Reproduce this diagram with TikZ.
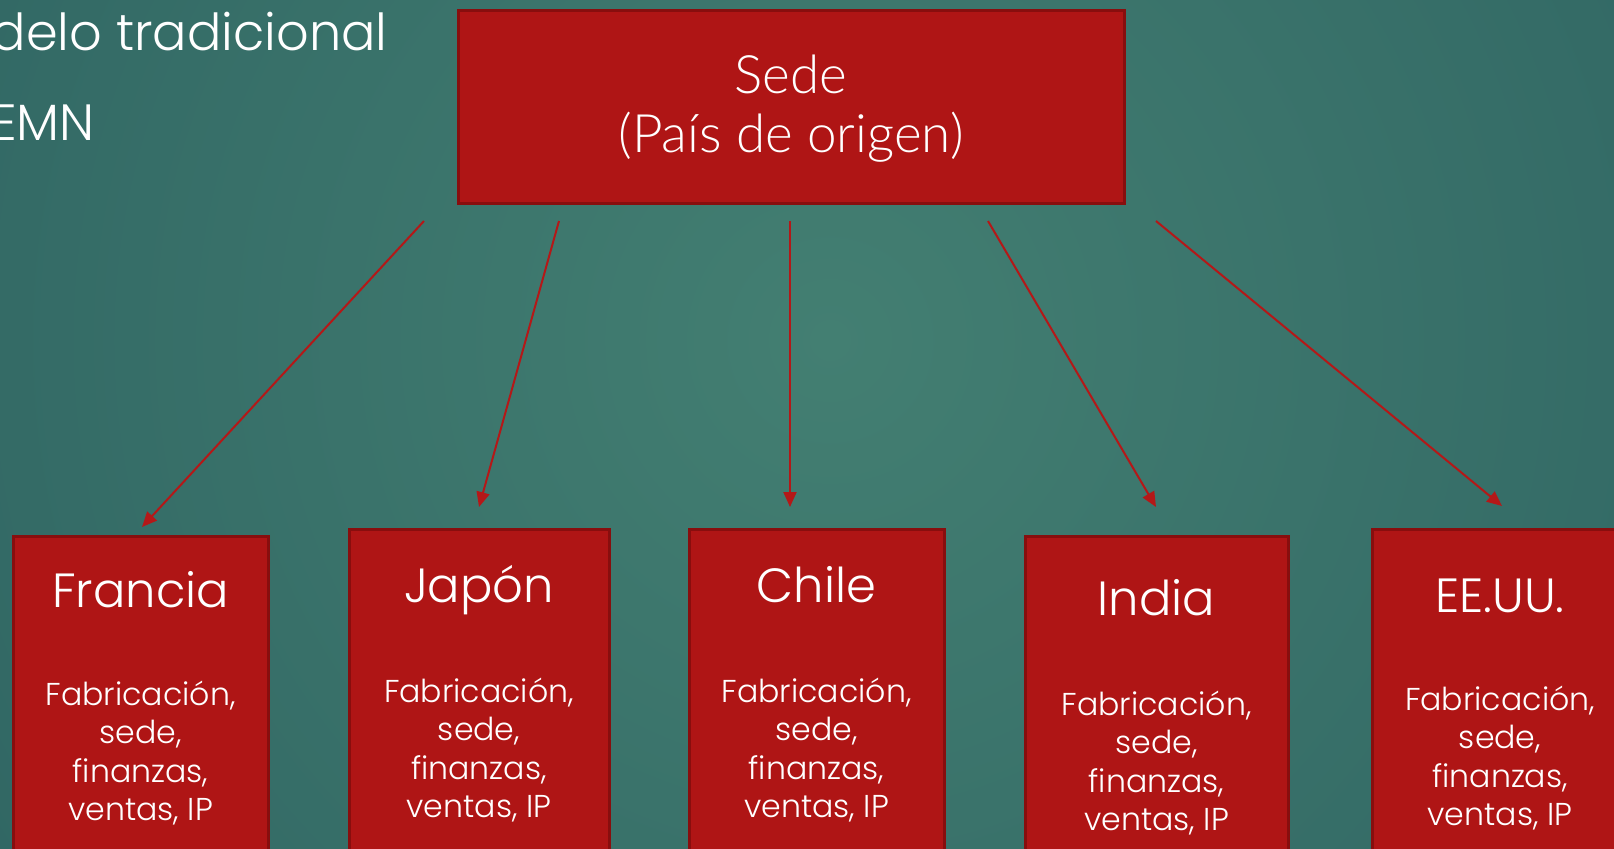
\documentclass[tikz,border=0pt]{standalone}
\usepackage{fontspec}
\setmainfont{Poppins}[UprightFont=* Light]
\newfontfamily\sedefont{Lato}[UprightFont=* Light]
\usetikzlibrary{arrows.meta}
\definecolor{fondoC}{RGB}{67,127,114}
\definecolor{fondoO}{RGB}{34,83,88}
\definecolor{rojo}{RGB}{175,21,21}
\definecolor{rojoB}{RGB}{136,14,14}
\definecolor{flecha}{RGB}{180,24,24}
\tikzset{
  caja/.style={rectangle,fill=rojo,draw=rojoB,line width=1.5pt,anchor=north,inner sep=0pt},
  titulo/.style={text=white,anchor=base,inner sep=0pt,font=\fontsize{24}{28}\selectfont},
  cuerpo/.style={text=white,anchor=base,align=center,inner sep=0pt,font=\fontsize{15.8}{19.25}\selectfont},
  flechita/.style={draw=flecha,line width=1pt,-{Triangle[length=7.5pt,width=6.5pt]}}
}
% x, top, width, name, title, title baseline, baseline of last body line
\newcommand{\pais}[7]{%
  \node[caja,minimum width=#3,minimum height=200pt] (#4) at (#1,#2) {};
  \node[titulo] (#4t) at (#1,#6) {#5};
  \node[cuerpo] (#4c) at (#1,#7) {Fabricación,\\sede,\\finanzas,\\ventas, IP};
}

\begin{document}
\begin{tikzpicture}[x=0.5pt,y=-0.5pt]
  \useasboundingbox (0,0) rectangle (1614,848);
  \clip (0,0) rectangle (1614,848);
  \fill[fondoO] (0,0) rectangle (1614,848);
  \shade[inner color=fondoC,outer color=fondoO] (830,340) circle (900pt);

  % slide text, cut at the left edge
  \node[text=white,anchor=base east,inner sep=0pt,font=\fontsize{25.5}{30}\selectfont] (titulo) at (388,50) {Modelo tradicional};
  \node[text=white,anchor=base east,inner sep=0pt,font=\fontsize{25.5}{30}\selectfont] (emn) at (95,140) {EMN};

  % headquarters
  \node[caja,minimum width=333pt,minimum height=96.5pt] (sede) at (791,9) {};
  \node[text=white,anchor=base,inner sep=0pt,align=center,font=\sedefont\fontsize{26.5}{29.5}\selectfont] (sedet) at (791,152) {Sede\\(País de origen)};

  % subsidiaries
  \pais{140.5}{535}{127.5pt}{fr}{Francia}{607}{820.5}
  \pais{479}{528}{130pt}{ja}{Japón}{602}{817.5}
  \pais{816.5}{528}{127.5pt}{ch}{Chile}{602}{817.5}
  \pais{1156.5}{535}{131.5pt}{in}{India}{615}{830.5}
  \pais{1500}{528}{128pt}{ee}{EE.UU.}{612}{825.5}

  \coordinate (frS) at (424,221);  \coordinate (frE) at (142,527);
  \coordinate (jaS) at (559,221);  \coordinate (jaE) at (479,507);
  \coordinate (chS) at (790,221);  \coordinate (chE) at (790,507);
  \coordinate (inS) at (988,221);  \coordinate (inE) at (1156,507);
  \coordinate (eeS) at (1156,221); \coordinate (eeE) at (1502,506);

  \foreach \p in {fr,ja,ch,in,ee}
    \draw[flechita] (\p S) -- (\p E);
\end{tikzpicture}
\end{document}
